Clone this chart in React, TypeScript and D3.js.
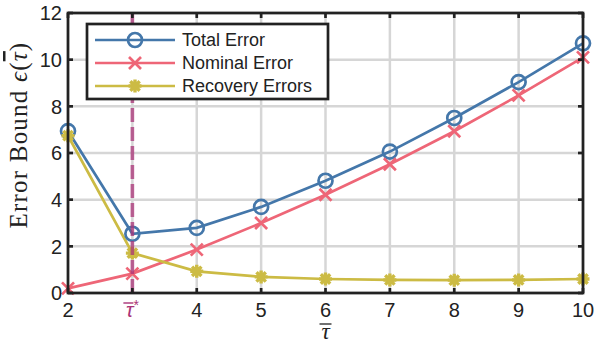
import React from 'react';
import * as d3 from 'd3';

const width = 596;
const height = 347;
const margin = { top: 13, right: 13, bottom: 54, left: 68 };

const tauBar = [2, 3, 4, 5, 6, 7, 8, 9, 10];
const totalError = [6.94, 2.54, 2.79, 3.69, 4.81, 6.06, 7.5, 9.04, 10.7];
const nominalError = [0.2, 0.83, 1.86, 3.0, 4.21, 5.52, 6.93, 8.47, 10.1];
const recoveryError = [6.74, 1.71, 0.93, 0.69, 0.6, 0.56, 0.55, 0.56, 0.6];
const yTicks = [0, 2, 4, 6, 8, 10, 12];
const tauStar = 3;

const blue = '#4477AA';
const red = '#EE6677';
const yellow = '#CCBB44';
const purple = '#AA3377';

const sans = "'Liberation Sans', Arial, sans-serif";
const serif = "'Liberation Serif', 'Times New Roman', serif";

const Circle = ({ x, y }: { x: number; y: number }) => (
    <circle cx={x} cy={y} r={7} fill="none" stroke={blue} strokeWidth={2.7} />
);

const Cross = ({ x, y }: { x: number; y: number }) => {
    const s = 6;
    return (
        <path d={`M${x - s},${y - s}L${x + s},${y + s}M${x - s},${y + s}L${x + s},${y - s}`}
            stroke={red} strokeWidth={2.7} />
    );
};

const Star = ({ x, y }: { x: number; y: number }) => {
    const s = 6.5;
    const d = s * 0.72;
    return (
        <path d={`M${x - s},${y}L${x + s},${y}M${x},${y - s}L${x},${y + s}M${x - d},${y - d}L${x + d},${y + d}M${x - d},${y + d}L${x + d},${y - d}`}
            stroke={yellow} strokeWidth={3.4} />
    );
};

const App = () => {
    const innerWidth = width - margin.left - margin.right;
    const innerHeight = height - margin.top - margin.bottom;

    const xScale = d3.scaleLinear().domain([2, 10]).range([0, innerWidth]);
    const yScale = d3.scaleLinear().domain([0, 12]).range([innerHeight, 0]);

    const line = d3.line<number>()
        .x((_, i) => xScale(tauBar[i]))
        .y(d => yScale(d));

    const tickLen = 5;
    const xLabelX = xScale(6);

    return (
        <svg width={width} height={height} style={{ position: 'absolute', left: 0, top: 0, background: '#fff' }}>
            <rect width={width} height={height} fill="#fff" />
            <g transform={`translate(${margin.left},${margin.top})`}>
                {/* grid */}
                {tauBar.map(t => (
                    <line key={'gx' + t} x1={xScale(t)} x2={xScale(t)} y1={0} y2={innerHeight}
                        stroke="#d6d6d6" strokeWidth={2.5} />
                ))}
                {yTicks.map(t => (
                    <line key={'gy' + t} x1={0} x2={innerWidth} y1={yScale(t)} y2={yScale(t)}
                        stroke="#d6d6d6" strokeWidth={2.5} />
                ))}

                {/* series */}
                <path d={line(totalError) || ''} fill="none" stroke={blue} strokeWidth={2.7} />
                <path d={line(nominalError) || ''} fill="none" stroke={red} strokeWidth={2.7} />
                <path d={line(recoveryError) || ''} fill="none" stroke={yellow} strokeWidth={2.7} />
                {totalError.map((v, i) => <Circle key={'c' + i} x={xScale(tauBar[i])} y={yScale(v)} />)}
                {nominalError.map((v, i) => <Cross key={'x' + i} x={xScale(tauBar[i])} y={yScale(v)} />)}
                {recoveryError.map((v, i) => <Star key={'s' + i} x={xScale(tauBar[i])} y={yScale(v)} />)}

                {/* tau star */}
                <line x1={xScale(tauStar)} x2={xScale(tauStar)} y1={0} y2={innerHeight}
                    stroke={purple} strokeOpacity={0.75} strokeWidth={3.6} strokeDasharray="14,5" />

                {/* axes box and ticks */}
                <rect x={0} y={0} width={innerWidth} height={innerHeight} fill="none" stroke="#222" strokeWidth={2.7} />
                {tauBar.map(t => (
                    <g key={'tx' + t}>
                        <line x1={xScale(t)} x2={xScale(t)} y1={innerHeight} y2={innerHeight - tickLen} stroke="#222" strokeWidth={2.7} />
                        <line x1={xScale(t)} x2={xScale(t)} y1={0} y2={tickLen} stroke="#222" strokeWidth={2.7} />
                        {t === tauStar ? (
                            <g>
                                <text x={xScale(t)} y={innerHeight + 24} textAnchor="middle"
                                    fontFamily={sans} fontSize={20} fill={purple}>
                                    <tspan fontStyle="italic">{'\u03C4'}</tspan>
                                    <tspan fontSize={14} dy={-7}>*</tspan>
                                </text>
                                <line x1={xScale(t) - 9} x2={xScale(t) + 1} y1={innerHeight + 10} y2={innerHeight + 10}
                                    stroke={purple} strokeWidth={1.4} />
                            </g>
                        ) : (
                            <text x={xScale(t)} y={innerHeight + 24} textAnchor="middle"
                                fontFamily={sans} fontSize={20} fill="#222">{t}</text>
                        )}
                    </g>
                ))}
                {yTicks.map(t => (
                    <g key={'ty' + t}>
                        <line x1={0} x2={tickLen} y1={yScale(t)} y2={yScale(t)} stroke="#222" strokeWidth={2.7} />
                        <line x1={innerWidth} x2={innerWidth - tickLen} y1={yScale(t)} y2={yScale(t)} stroke="#222" strokeWidth={2.7} />
                        <text x={-6} y={yScale(t)} dy=".36em" textAnchor="end"
                            fontFamily={sans} fontSize={20} fill="#222">{t}</text>
                    </g>
                ))}

                {/* axis labels */}
                <text x={xLabelX} y={innerHeight + 46} textAnchor="middle"
                    fontFamily={serif} fontStyle="italic" fontSize={23} fill="#222">{'\u03C4'}</text>
                <line x1={xLabelX - 6} x2={xLabelX + 6} y1={innerHeight + 31} y2={innerHeight + 31}
                    stroke="#222" strokeWidth={1.3} />
                <text transform={`translate(${-41},${122}) rotate(-90)`} textAnchor="middle"
                    fontFamily={serif} fontSize={25} letterSpacing={1.2} fill="#222">
                    Error Bound <tspan fontStyle="italic">{'\u03F5'}</tspan>(<tspan fontStyle="italic" style={{ textDecoration: 'overline' }}>{'\u03C4'}</tspan>)
                </text>

                {/* legend */}
                <g transform={`translate(${19},${11})`}>
                    <rect x={0} y={0} width={241} height={75} fill="#fff" stroke="#222" strokeWidth={2.7} />
                    {[
                        { name: 'Total Error', color: blue, M: Circle },
                        { name: 'Nominal Error', color: red, M: Cross },
                        { name: 'Recovery Errors', color: yellow, M: Star },
                    ].map((e, i) => (
                        <g key={e.name} transform={`translate(0,${16 + i * 23})`}>
                            <line x1={8} x2={88} y1={0} y2={0} stroke={e.color} strokeWidth={2.7} />
                            <e.M x={48} y={0} />
                            <text x={95} y={0} dy=".36em" fontFamily={sans} fontSize={18} fill="#222">{e.name}</text>
                        </g>
                    ))}
                </g>
            </g>
        </svg>
    );
};

export default App;
